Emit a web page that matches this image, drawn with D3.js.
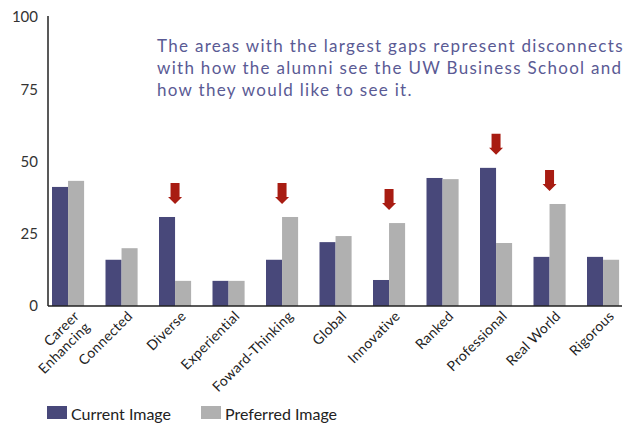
<!DOCTYPE html>
<html>
<head>
<meta charset="utf-8">
<script src="https://cdn.jsdelivr.net/npm/d3@7"></script>
<style>
  body { margin: 0; background: #fff; }
  text { font-family: Lato, "Open Sans", sans-serif; }
</style>
</head>
<body>
<script>
(function() {

  // chart data
  let categories = ["Career Enhancing", "Connected", "Diverse", "Experiential", "Foward-Thinking",
    "Global", "Innovative", "Ranked", "Professional", "Real World", "Rigorous"];
  let currentImage = [41.2, 16, 30.8, 8.7, 16, 22.1, 9, 44.3, 47.8, 17, 17];
  let preferredImage = [43.3, 20, 8.7, 8.7, 30.8, 24.2, 28.7, 43.9, 21.8, 35.3, 16];
  let yTicks = [0, 25, 50, 75, 100];
  let gapCategories = ["Diverse", "Foward-Thinking", "Innovative", "Professional", "Real World"];
  let seriesNames = ["Current Image", "Preferred Image"];
  let noteLines = [
    "The areas with the largest gaps represent disconnects",
    "with how the alumni see the UW Business School and",
    "how they would like to see it."
  ];

  let colors = ["#48487a", "#b0b0b0"];

  let svg = d3.select('body').append('svg')
    .attr('width', 629)
    .attr('height', 424);

  let x0 = d3.scaleBand()
    .domain(categories)
    .range([41.3, 629.8])
    .paddingInner(0.4)
    .paddingOuter(0.2);

  let x1 = d3.scaleBand()
    .domain(seriesNames)
    .range([0, x0.bandwidth()]);

  let y = d3.scaleLinear()
    .domain([0, 100])
    .range([306, 17]);

  // bars
  let rows = categories.map((c, i) => ({ cat: c, values: [currentImage[i], preferredImage[i]] }));

  let groups = svg.selectAll('.group')
    .data(rows)
    .enter()
    .append('g')
      .attr('class', 'group')
      .attr('transform', (d) => 'translate(' + x0(d.cat) + ',0)');

  groups.selectAll('rect')
    .data((d) => d.values.map((v, j) => ({ name: seriesNames[j], value: v, idx: j })))
    .enter()
    .append('rect')
      .attr('x', (d) => x1(d.name))
      .attr('y', (d) => y(d.value))
      .attr('width', x1.bandwidth())
      .attr('height', (d) => y(0) - y(d.value))
      .attr('fill', (d) => colors[d.idx]);

  // y axis
  let yAxis = d3.axisLeft(y)
    .tickValues(yTicks)
    .tickSize(0)
    .tickPadding(10);

  let yg = svg.append('g')
    .attr('transform', 'translate(48, 0)')
    .call(yAxis);
  yg.select('.domain').remove();
  yg.selectAll('text')
    .style('font-size', '15px')
    .style('font-family', 'Lato, sans-serif')
    .attr('fill', '#333');

  svg.append('line')
    .attr('x1', 48).attr('x2', 48)
    .attr('y1', 16).attr('y2', y(0))
    .attr('stroke', '#222')
    .attr('stroke-width', 1.5);

  // x axis
  let xAxis = d3.axisBottom(x0).tickSize(0).tickFormat('');
  let xg = svg.append('g')
    .attr('transform', 'translate(0,' + y(0) + ')')
    .call(xAxis);
  xg.select('.domain').remove();

  xg.selectAll('.tick')
    .append('text')
      .attr('fill', '#222')
      .attr('text-anchor', 'end')
      .attr('transform', 'translate(12, 11) rotate(-45)')
      .style('font-size', '14px')
      .style('letter-spacing', '0.3px')
      .each(function(d) {
        let words = d == "Career Enhancing" ? ["Career", "Enhancing"] : [d];
        let t = d3.select(this);
        words.forEach((w, k) => {
          t.append('tspan')
            .attr('x', 0)
            .attr('dy', k == 0 ? 0 : '1.1em')
            .text(w);
        });
      });

  svg.append('line')
    .attr('x1', 48).attr('x2', 622)
    .attr('y1', y(0)).attr('y2', y(0))
    .attr('stroke', '#222')
    .attr('stroke-width', 1.5);

  // red arrows over the biggest gaps
  let arrow = "M-4.5,-21 L4.5,-21 L4.5,-7 L7,-7 L0,0 L-7,-7 L-4.5,-7 Z";
  svg.selectAll('.arrow')
    .data(gapCategories)
    .enter()
    .append('path')
      .attr('class', 'arrow')
      .attr('d', arrow)
      .attr('fill', '#a81c12')
      .attr('transform', (d) => {
        let i = categories.indexOf(d);
        let top = Math.max(currentImage[i], preferredImage[i]);
        return 'translate(' + (x0(d) + x0.bandwidth() / 2) + ',' + (y(top) - 13) + ')';
      });

  // annotation
  svg.append('g')
    .selectAll('text')
    .data(noteLines)
    .enter()
    .append('text')
      .attr('x', 157)
      .attr('y', (d, i) => 52 + i * 21.8)
      .attr('fill', '#5a5a94')
      .style('font-size', '17px')
      .style('letter-spacing', '1.3px')
      .text((d) => d);

  // legend
  let legend = svg.append('g')
    .selectAll('g')
    .data(seriesNames)
    .enter()
    .append('g')
      .attr('transform', (d, i) => 'translate(' + (47 + i * 154) + ', 406)');

  legend.append('rect')
    .attr('width', 20)
    .attr('height', 13)
    .attr('fill', (d, i) => colors[i]);

  legend.append('text')
    .attr('x', 24)
    .attr('y', 14)
    .attr('fill', '#222')
    .style('font-size', '16px')
    .text((d) => d);

})();
</script>
</body>
</html>
